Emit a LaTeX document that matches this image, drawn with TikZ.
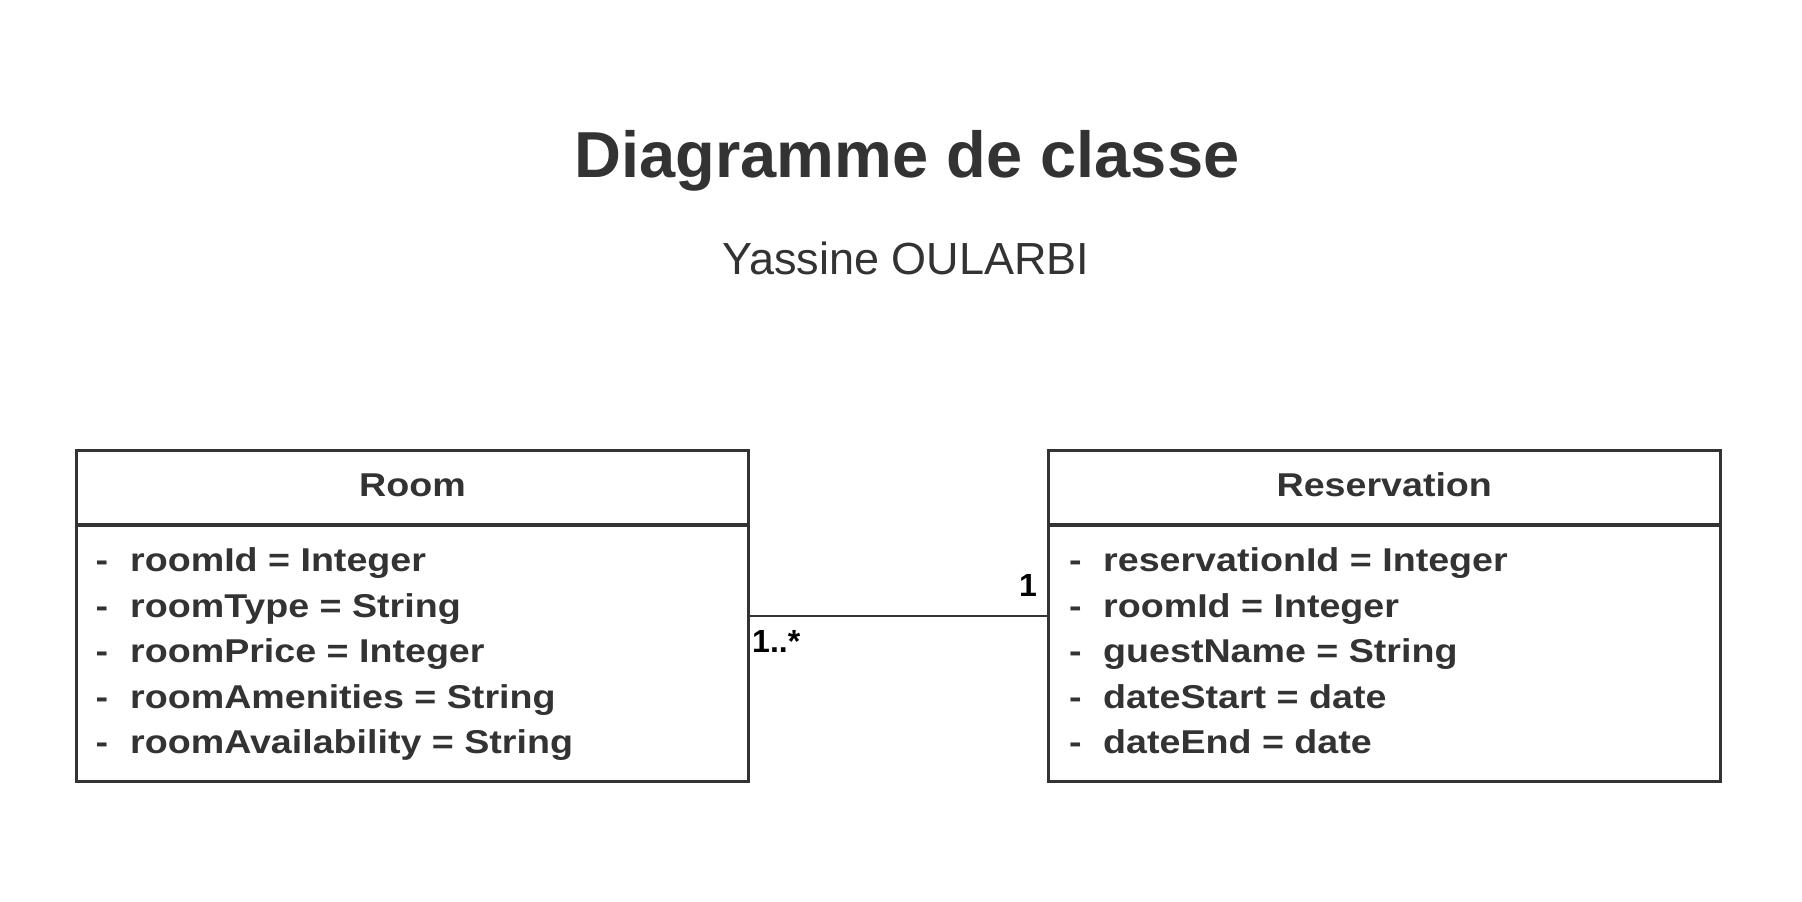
\documentclass[tikz,border=0pt]{standalone}
\usepackage{fontspec}
\setmainfont{Liberation Sans}
\newfontfamily\attrfont[FakeStretch=1.14]{Liberation Sans}
\definecolor{ink}{HTML}{333333}
\begin{document}
\begin{tikzpicture}[x=1pt,y=-1pt,
  classbox/.style={draw=ink,line width=3.2pt,minimum width=672pt,inner sep=0pt},
  attr/.style={anchor=base west,inner sep=0pt,text=ink,font=\attrfont\fontsize{33}{40}\selectfont\bfseries},
  headtxt/.style={anchor=base,inner sep=0pt,text=ink,font=\attrfont\fontsize{33}{40}\selectfont\bfseries},
  mult/.style={inner sep=0pt,text=black,font=\fontsize{32}{40}\selectfont\bfseries},
  assoc/.style={draw=ink,line width=1.6pt}]
\useasboundingbox (0,0) rectangle (1802,902);
\fill[white] (0,0) rectangle (1802,902);
% title
\node[anchor=base,inner sep=0pt,text=ink,font=\fontsize{65}{78}\selectfont\bfseries] (title) at (907,177) {Diagramme de classe};
\node[anchor=base,inner sep=0pt,text=ink,font=\fontsize{45}{54}\selectfont] (author) at (906,274) {Yassine OULARBI};
% Room class
\node[classbox,minimum height=331pt] (room) at (412.5,616) {};
\node[classbox,minimum height=74.5pt,anchor=north] (roomhead) at (room.north) {};
\node[headtxt] (roomname) at (412.5,496) {Room};
\node[attr] (rd1) at (95.5,571) {-};
\node[attr] (ra1) at (130,571) {roomId = Integer};
\node[attr] (rd2) at (95.5,617) {-};
\node[attr] (ra2) at (130,617) {roomType = String};
\node[attr] (rd3) at (95.5,662) {-};
\node[attr] (ra3) at (130,662) {roomPrice = Integer};
\node[attr] (rd4) at (95.5,708) {-};
\node[attr] (ra4) at (130,708) {roomAmenities = String};
\node[attr] (rd5) at (95.5,753) {-};
\node[attr] (ra5) at (130,753) {roomAvailability = String};
% Reservation class
\node[classbox,minimum height=331pt] (res) at (1384.3,616) {};
\node[classbox,minimum height=74.5pt,anchor=north] (reshead) at (res.north) {};
\node[headtxt] (resname) at (1384.3,496) {Reservation};
\node[attr] (sd1) at (1069,571) {-};
\node[attr] (sa1) at (1103,571) {reservationId = Integer};
\node[attr] (sd2) at (1069,617) {-};
\node[attr] (sa2) at (1103,617) {roomId = Integer};
\node[attr] (sd3) at (1069,662) {-};
\node[attr] (sa3) at (1103,662) {guestName = String};
\node[attr] (sd4) at (1069,708) {-};
\node[attr] (sa4) at (1103,708) {dateStart = date};
\node[attr] (sd5) at (1069,753) {-};
\node[attr] (sa5) at (1103,753) {dateEnd = date};
% association
\draw[assoc] (room.east) -- (res.west);
\node[mult,anchor=base west] (m1) at (752,652) {1..*};
\node[mult,anchor=base east] (m2) at (1037,596) {1};
\end{tikzpicture}
\end{document}
